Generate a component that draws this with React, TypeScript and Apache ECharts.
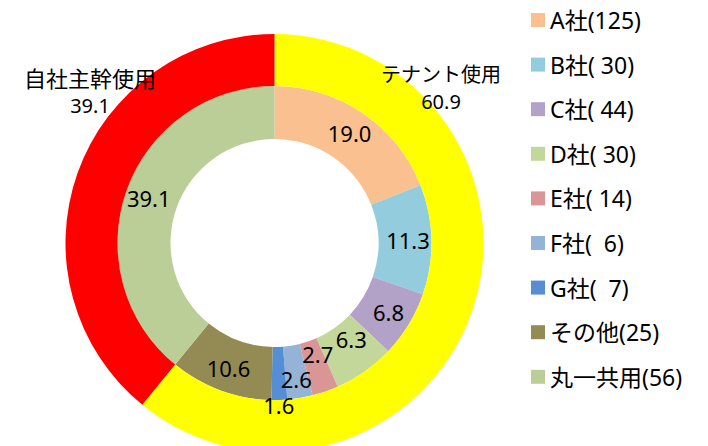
import React, { useEffect, useRef } from "react";
import * as echarts from "echarts";

const innerNames = ["A社", "B社", "C社", "D社", "E社", "F社", "G社", "その他", "丸一共用"];
const innerValues = [19.0, 11.3, 6.8, 6.3, 2.7, 2.6, 1.6, 10.6, 39.1];
const legendLabels = ["A社(125)", "B社( 30)", "C社( 44)", "D社( 30)", "E社( 14)", "F社(  6)", "G社(  7)", "その他(25)", "丸一共用(56)"];
const innerColors = ["#FAC090", "#93CDDD", "#B3A2C7", "#C4D79B", "#D99694", "#95B3D7", "#558ED5", "#948A54", "#BBCE98"];

const outerNames = ["テナント使用", "自社主幹使用"];
const outerValues = [60.9, 39.1];
const outerColors = ["#FFFF00", "#FF0000"];

const FONT = "'Noto Sans', 'Noto Sans CJK JP', sans-serif";

// label adjustments (manual moves in the original)
const innerLabelShift: Record<number, [number, number]> = {
  3: [0, -13],
  4: [0, -15],
  5: [0, 4],
  6: [0, 29],
};
const outerLabelPos: [number, number][] = [
  [441, 87],
  [90, 91],
];
const outerNameSize = [20, 22];

export default function App() {
  const ref = useRef<HTMLDivElement>(null);
  useEffect(() => {
    if (!ref.current) return;
    const chart = echarts.init(ref.current, undefined, { renderer: "svg" });
    chart.setOption({
      animation: false,
      backgroundColor: "#ffffff",
      legend: {
        orient: "vertical",
        left: 531,
        top: 8,
        padding: 0,
        itemWidth: 14,
        itemHeight: 14,
        itemGap: 20.6,
        icon: "rect",
        data: innerNames,
        formatter: (name: string) => legendLabels[innerNames.indexOf(name)],
        textStyle: { fontFamily: FONT, fontSize: 23, color: "#000", lineHeight: 24 },
      },
      series: [
        {
          type: "pie",
          center: [274.5, 243],
          radius: [104, 157],
          startAngle: 90,
          clockwise: true,
          avoidLabelOverlap: false,
          label: {
            show: true,
            position: "inside",
            fontFamily: FONT,
            fontSize: 22,
            lineHeight: 22,
            color: "#000",
            formatter: (p: any) => Number(p.value).toFixed(1),
          },
          labelLine: { show: false },
          emphasis: { disabled: true },
          labelLayout: (p: any) => {
            const s = innerLabelShift[p.dataIndex];
            return s ? { dx: s[0], dy: s[1] } : {};
          },
          data: innerNames.map((n, i) => ({
            name: n,
            value: innerValues[i],
            itemStyle: { color: innerColors[i] },
          })),
        },
        {
          type: "pie",
          center: [274.5, 243],
          radius: [157, 209],
          startAngle: 90,
          clockwise: true,
          avoidLabelOverlap: false,
          label: {
            show: true,
            position: "inside",
            fontFamily: FONT,
            color: "#000",
          },
          labelLine: { show: false },
          emphasis: { disabled: true },
          labelLayout: (p: any) => {
            const pos = outerLabelPos[p.dataIndex];
            return { x: pos[0], y: pos[1], align: "center", verticalAlign: "middle" };
          },
          data: outerNames.map((n, i) => ({
            name: n,
            value: outerValues[i],
            itemStyle: { color: outerColors[i] },
            label: {
              formatter: (p: any) => `{n|${p.name}}\n{v|${Number(p.value).toFixed(1)}}`,
              rich: {
                n: { fontFamily: FONT, fontSize: outerNameSize[i], color: "#000", lineHeight: 28 },
                v: { fontFamily: FONT, fontSize: 20, color: "#000", lineHeight: 26 },
              },
            },
          })),
        },
      ],
    });
    return () => chart.dispose();
  }, []);
  return (
    <div
      ref={ref}
      style={{ position: "absolute", left: 0, top: 0, width: 708, height: 446 }}
    />
  );
}
